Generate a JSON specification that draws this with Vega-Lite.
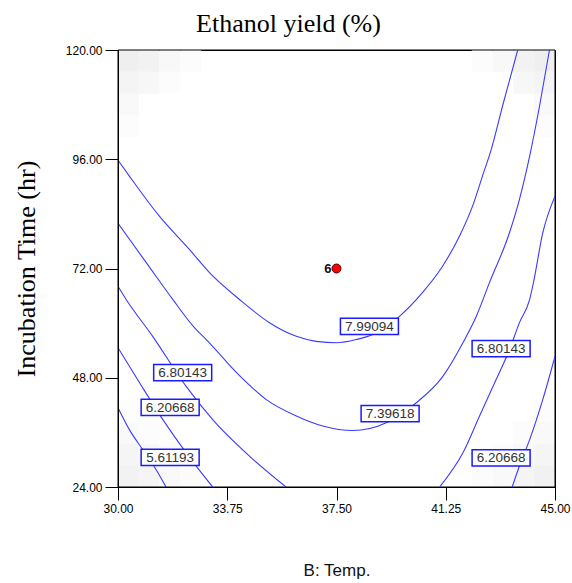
{
  "$schema": "https://vega.github.io/schema/vega-lite/v6.json",
  "width": 437,
  "height": 437,
  "autosize": {"type": "none"},
  "padding": {"left": 118, "top": 50, "right": 17, "bottom": 96},
  "background": "white",
  "title": {
    "text": "Ethanol yield (%)",
    "font": "Liberation Serif",
    "fontSize": 26,
    "fontWeight": "normal",
    "color": "#000000",
    "anchor": "middle",
    "frame": "group",
    "baseline": "alphabetic",
    "offset": 18,
    "dx": -48,
    "dy": 32
  },
  "config": {
    "view": {"stroke": "#000000", "strokeWidth": 1},
    "axis": {
      "grid": false,
      "domainColor": "#000000",
      "tickColor": "#000000",
      "tickSize": 13,
      "labelFont": "Liberation Sans",
      "labelFontSize": 12,
      "labelColor": "#000000",
      "labelFlush": false,
      "labelOverlap": false,
      "format": ".2f"
    }
  },
  "datasets": {
    "shade": [
      {"x0": 30, "x1": 30.714, "y0": 24, "y1": 28.8, "s": 0.8},
      {"x0": 30, "x1": 30.714, "y0": 28.8, "y1": 33.6, "s": 0.6},
      {"x0": 30, "x1": 30.714, "y0": 33.6, "y1": 38.4, "s": 0.35},
      {"x0": 30, "x1": 30.714, "y0": 38.4, "y1": 43.2, "s": 0.15},
      {"x0": 30.714, "x1": 31.429, "y0": 24, "y1": 28.8, "s": 0.6},
      {"x0": 30.714, "x1": 31.429, "y0": 28.8, "y1": 33.6, "s": 0.45},
      {"x0": 30.714, "x1": 31.429, "y0": 33.6, "y1": 38.4, "s": 0.2},
      {"x0": 31.429, "x1": 32.143, "y0": 24, "y1": 28.8, "s": 0.4},
      {"x0": 31.429, "x1": 32.143, "y0": 28.8, "y1": 33.6, "s": 0.2},
      {"x0": 32.143, "x1": 32.857, "y0": 24, "y1": 28.8, "s": 0.2},
      {"x0": 44.286, "x1": 45, "y0": 24, "y1": 28.8, "s": 0.85},
      {"x0": 44.286, "x1": 45, "y0": 28.8, "y1": 33.6, "s": 0.65},
      {"x0": 44.286, "x1": 45, "y0": 33.6, "y1": 38.4, "s": 0.4},
      {"x0": 44.286, "x1": 45, "y0": 38.4, "y1": 43.2, "s": 0.2},
      {"x0": 43.571, "x1": 44.286, "y0": 24, "y1": 28.8, "s": 0.65},
      {"x0": 43.571, "x1": 44.286, "y0": 28.8, "y1": 33.6, "s": 0.45},
      {"x0": 43.571, "x1": 44.286, "y0": 33.6, "y1": 38.4, "s": 0.2},
      {"x0": 42.857, "x1": 43.571, "y0": 24, "y1": 28.8, "s": 0.4},
      {"x0": 42.857, "x1": 43.571, "y0": 28.8, "y1": 33.6, "s": 0.2},
      {"x0": 42.143, "x1": 42.857, "y0": 24, "y1": 28.8, "s": 0.2},
      {"x0": 30, "x1": 30.714, "y0": 115.2, "y1": 120, "s": 1.0},
      {"x0": 30.714, "x1": 31.429, "y0": 115.2, "y1": 120, "s": 0.8},
      {"x0": 31.429, "x1": 32.143, "y0": 115.2, "y1": 120, "s": 0.45},
      {"x0": 32.143, "x1": 32.857, "y0": 115.2, "y1": 120, "s": 0.2},
      {"x0": 30, "x1": 30.714, "y0": 110.4, "y1": 115.2, "s": 0.7},
      {"x0": 30.714, "x1": 31.429, "y0": 110.4, "y1": 115.2, "s": 0.5},
      {"x0": 31.429, "x1": 32.143, "y0": 110.4, "y1": 115.2, "s": 0.2},
      {"x0": 30, "x1": 30.714, "y0": 105.6, "y1": 110.4, "s": 0.4},
      {"x0": 30, "x1": 30.714, "y0": 100.8, "y1": 105.6, "s": 0.2},
      {"x0": 44.286, "x1": 45, "y0": 115.2, "y1": 120, "s": 1.0},
      {"x0": 43.571, "x1": 44.286, "y0": 115.2, "y1": 120, "s": 0.8},
      {"x0": 42.857, "x1": 43.571, "y0": 115.2, "y1": 120, "s": 0.45},
      {"x0": 42.143, "x1": 42.857, "y0": 115.2, "y1": 120, "s": 0.2},
      {"x0": 44.286, "x1": 45, "y0": 110.4, "y1": 115.2, "s": 0.7},
      {"x0": 43.571, "x1": 44.286, "y0": 110.4, "y1": 115.2, "s": 0.5},
      {"x0": 44.286, "x1": 45, "y0": 105.6, "y1": 110.4, "s": 0.4},
      {"x0": 44.286, "x1": 45, "y0": 100.8, "y1": 105.6, "s": 0.2}
    ],
    "frame": [
      {"x0": 30, "x1": 45, "y0": 24, "y1": 120}
    ],
    "contours": [
      {"seg": "c1", "i": 0, "x": 30.0, "y": 95.8},
      {"seg": "c1", "i": 1, "x": 30.39, "y": 92.3},
      {"seg": "c1", "i": 2, "x": 31.42, "y": 83.5},
      {"seg": "c1", "i": 3, "x": 32.45, "y": 76.2},
      {"seg": "c1", "i": 4, "x": 33.14, "y": 71.1},
      {"seg": "c1", "i": 5, "x": 34.17, "y": 65.2},
      {"seg": "c1", "i": 6, "x": 35.2, "y": 60.1},
      {"seg": "c1", "i": 7, "x": 36.12, "y": 57.1},
      {"seg": "c1", "i": 8, "x": 36.8, "y": 56.0},
      {"seg": "c1", "i": 9, "x": 37.5, "y": 55.7},
      {"seg": "c1", "i": 10, "x": 38.18, "y": 56.4},
      {"seg": "c1", "i": 11, "x": 38.74, "y": 57.5},
      {"seg": "c1", "i": 12, "x": 39.66, "y": 61.5},
      {"seg": "c1", "i": 13, "x": 40.45, "y": 66.7},
      {"seg": "c1", "i": 14, "x": 41.14, "y": 72.5},
      {"seg": "c1", "i": 15, "x": 41.72, "y": 79.1},
      {"seg": "c1", "i": 16, "x": 42.17, "y": 85.7},
      {"seg": "c1", "i": 17, "x": 42.51, "y": 92.3},
      {"seg": "c1", "i": 18, "x": 42.81, "y": 98.1},
      {"seg": "c1", "i": 19, "x": 43.2, "y": 107.7},
      {"seg": "c1", "i": 20, "x": 43.72, "y": 120.0},
      {"seg": "c2", "i": 0, "x": 30.0, "y": 81.9},
      {"seg": "c2", "i": 1, "x": 30.97, "y": 73.3},
      {"seg": "c2", "i": 2, "x": 31.88, "y": 65.2},
      {"seg": "c2", "i": 3, "x": 32.68, "y": 58.6},
      {"seg": "c2", "i": 4, "x": 33.03, "y": 56.4},
      {"seg": "c2", "i": 5, "x": 34.06, "y": 49.2},
      {"seg": "c2", "i": 6, "x": 35.09, "y": 43.2},
      {"seg": "c2", "i": 7, "x": 36.12, "y": 39.6},
      {"seg": "c2", "i": 8, "x": 37.03, "y": 37.4},
      {"seg": "c2", "i": 9, "x": 38.06, "y": 36.4},
      {"seg": "c2", "i": 10, "x": 39.21, "y": 38.1},
      {"seg": "c2", "i": 11, "x": 40.24, "y": 42.5},
      {"seg": "c2", "i": 12, "x": 41.15, "y": 48.3},
      {"seg": "c2", "i": 13, "x": 41.84, "y": 55.7},
      {"seg": "c2", "i": 14, "x": 42.3, "y": 61.5},
      {"seg": "c2", "i": 15, "x": 42.75, "y": 68.9},
      {"seg": "c2", "i": 16, "x": 43.44, "y": 79.9},
      {"seg": "c2", "i": 17, "x": 43.78, "y": 87.2},
      {"seg": "c2", "i": 18, "x": 44.13, "y": 96.7},
      {"seg": "c2", "i": 19, "x": 44.47, "y": 107.7},
      {"seg": "c2", "i": 20, "x": 44.81, "y": 120.0},
      {"seg": "c3l", "i": 0, "x": 30.0, "y": 68.1},
      {"seg": "c3l", "i": 1, "x": 30.28, "y": 65.2},
      {"seg": "c3l", "i": 2, "x": 31.19, "y": 57.1},
      {"seg": "c3l", "i": 3, "x": 32.34, "y": 46.1},
      {"seg": "c3l", "i": 4, "x": 33.25, "y": 38.8},
      {"seg": "c3l", "i": 5, "x": 34.51, "y": 30.8},
      {"seg": "c3l", "i": 6, "x": 35.77, "y": 24.0},
      {"seg": "c3r", "i": 0, "x": 41.04, "y": 24.0},
      {"seg": "c3r", "i": 1, "x": 41.84, "y": 31.5},
      {"seg": "c3r", "i": 2, "x": 42.41, "y": 39.6},
      {"seg": "c3r", "i": 3, "x": 42.98, "y": 47.6},
      {"seg": "c3r", "i": 4, "x": 43.44, "y": 54.2},
      {"seg": "c3r", "i": 5, "x": 43.78, "y": 60.1},
      {"seg": "c3r", "i": 6, "x": 44.13, "y": 65.2},
      {"seg": "c3r", "i": 7, "x": 44.26, "y": 68.9},
      {"seg": "c3r", "i": 8, "x": 44.58, "y": 79.8},
      {"seg": "c3r", "i": 9, "x": 45.0, "y": 87.9},
      {"seg": "c4l", "i": 0, "x": 30.0, "y": 54.6},
      {"seg": "c4l", "i": 1, "x": 30.74, "y": 46.9},
      {"seg": "c4l", "i": 2, "x": 31.54, "y": 38.8},
      {"seg": "c4l", "i": 3, "x": 32.34, "y": 31.5},
      {"seg": "c4l", "i": 4, "x": 33.25, "y": 24.0},
      {"seg": "c4r", "i": 0, "x": 43.53, "y": 24.0},
      {"seg": "c4r", "i": 1, "x": 43.78, "y": 28.6},
      {"seg": "c4r", "i": 2, "x": 44.13, "y": 34.4},
      {"seg": "c4r", "i": 3, "x": 44.58, "y": 43.2},
      {"seg": "c4r", "i": 4, "x": 45.0, "y": 52.7},
      {"seg": "c5", "i": 0, "x": 30.0, "y": 41.4},
      {"seg": "c5", "i": 1, "x": 30.39, "y": 36.6},
      {"seg": "c5", "i": 2, "x": 30.85, "y": 32.2},
      {"seg": "c5", "i": 3, "x": 31.31, "y": 27.8},
      {"seg": "c5", "i": 4, "x": 31.65, "y": 24.0}
    ],
    "labels": [
      {"x": 38.63, "y": 59.3, "label": "7.99094"},
      {"x": 39.34, "y": 40.1, "label": "7.39618"},
      {"x": 43.15, "y": 54.4, "label": "6.80143"},
      {"x": 43.15, "y": 30.4, "label": "6.20668"},
      {"x": 32.22, "y": 49.1, "label": "6.80143"},
      {"x": 31.79, "y": 41.5, "label": "6.20668"},
      {"x": 31.79, "y": 30.5, "label": "5.61193"}
    ],
    "design": [
      {"x": 37.5, "y": 72, "run": "6"}
    ]
  },
  "layer": [
    {
      "data": {"name": "shade"},
      "mark": {"type": "rect", "strokeWidth": 0},
      "encoding": {
        "x": {
          "field": "x0", "type": "quantitative",
          "scale": {"domain": [30, 45], "nice": false, "zero": false},
          "axis": {
            "values": [30, 33.75, 37.5, 41.25, 45],
            "zindex": 1,
            "labelPadding": 3,
            "title": "B: Temp.",
            "titleFont": "Liberation Sans",
            "titleFontSize": 17,
            "titleFontWeight": "normal",
            "titleColor": "#111111",
            "titleX": 218.5,
            "titleY": 88,
            "titleAlign": "center",
            "titleBaseline": "alphabetic"
          }
        },
        "x2": {"field": "x1"},
        "y": {
          "field": "y0", "type": "quantitative",
          "scale": {"domain": [24, 120], "nice": false, "zero": false},
          "axis": {
            "values": [24, 48, 72, 96, 120],
            "zindex": 1,
            "labelPadding": 3,
            "title": "Incubation Time (hr)",
            "titleFont": "Liberation Serif",
            "titleFontSize": 26,
            "titleFontWeight": "normal",
            "titleColor": "#000000",
            "titleAngle": -90,
            "titleX": -84,
            "titleY": 218.5,
            "titleAlign": "center",
            "titleBaseline": "alphabetic"
          }
        },
        "y2": {"field": "y1"},
        "color": {
          "field": "s", "type": "quantitative",
          "scale": {"domain": [0, 1], "range": ["#ffffff", "#efefef"]},
          "legend": null
        }
      }
    },
    {
      "data": {"name": "frame"},
      "mark": {"type": "rect", "fill": null, "filled": false, "stroke": "#000000", "strokeWidth": 1},
      "encoding": {
        "x": {"field": "x0", "type": "quantitative"},
        "x2": {"field": "x1"},
        "y": {"field": "y0", "type": "quantitative"},
        "y2": {"field": "y1"}
      }
    },
    {
      "data": {"name": "contours"},
      "mark": {"type": "line", "color": "#3b3bff", "strokeWidth": 1.1, "interpolate": "monotone", "clip": true},
      "encoding": {
        "x": {"field": "x", "type": "quantitative"},
        "y": {"field": "y", "type": "quantitative"},
        "detail": {"field": "seg"},
        "order": {"field": "i", "type": "quantitative"}
      }
    },
    {
      "data": {"name": "labels"},
      "mark": {
        "type": "point",
        "shape": "M-1,-0.28H1V0.28H-1Z",
        "size": 3364,
        "filled": false,
        "fill": "#ffffff",
        "fillOpacity": 1,
        "stroke": "#1a1aff",
        "strokeWidth": 1.5,
        "opacity": 1
      },
      "encoding": {
        "x": {"field": "x", "type": "quantitative"},
        "y": {"field": "y", "type": "quantitative"}
      }
    },
    {
      "data": {"name": "labels"},
      "mark": {
        "type": "text",
        "font": "Liberation Sans",
        "fontSize": 13.5,
        "color": "#333333",
        "align": "center",
        "baseline": "middle",
        "dy": 0.5
      },
      "encoding": {
        "x": {"field": "x", "type": "quantitative"},
        "y": {"field": "y", "type": "quantitative"},
        "text": {"field": "label"}
      }
    },
    {
      "data": {"name": "design"},
      "mark": {
        "type": "point",
        "shape": "circle",
        "size": 80,
        "filled": true,
        "fill": "#ff0000",
        "stroke": "#550000",
        "strokeWidth": 1,
        "opacity": 1
      },
      "encoding": {
        "x": {"field": "x", "type": "quantitative"},
        "y": {"field": "y", "type": "quantitative"}
      }
    },
    {
      "data": {"name": "design"},
      "mark": {
        "type": "text",
        "font": "Liberation Sans",
        "fontSize": 13,
        "fontWeight": "bold",
        "color": "#111111",
        "align": "right",
        "baseline": "middle",
        "dx": -5,
        "dy": 0
      },
      "encoding": {
        "x": {"field": "x", "type": "quantitative"},
        "y": {"field": "y", "type": "quantitative"},
        "text": {"field": "run"}
      }
    }
  ]
}
